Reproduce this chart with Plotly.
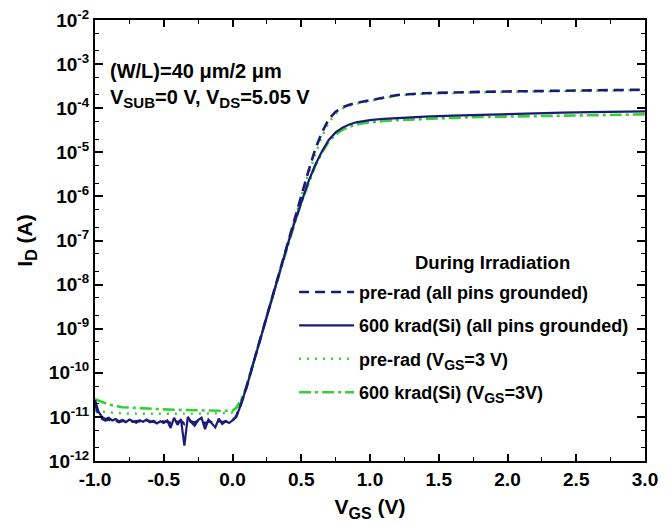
import numpy as np
import plotly.graph_objects as go

# Gate voltage sample points (V)
vgs_off = [-1.000, -0.975, -0.950, -0.925, -0.900, -0.875, -0.850, -0.825, -0.800,
           -0.775, -0.750, -0.725, -0.700, -0.675, -0.650, -0.625, -0.600, -0.575,
           -0.550, -0.525, -0.500, -0.475, -0.450, -0.425, -0.400, -0.375, -0.350,
           -0.325, -0.300, -0.275, -0.250, -0.225, -0.200, -0.175, -0.150, -0.125,
           -0.100, -0.075, -0.050, -0.025]
vgs_on = [0.000, 0.025, 0.050, 0.075, 0.100, 0.150, 0.200, 0.250, 0.300, 0.350,
          0.400, 0.450, 0.500, 0.550, 0.600, 0.650, 0.700, 0.750, 0.800, 0.850,
          0.900, 0.950, 1.000, 1.100, 1.200, 1.400, 1.600, 1.800, 2.000, 2.200,
          2.400, 2.600, 2.800, 3.000]
vgs_off_coarse = [-1.0, -0.9, -0.8, -0.7, -0.6, -0.5, -0.4, -0.3, -0.2, -0.1]

# log10 of drain current (A)
# 600 krad(Si), all pins grounded
log_id_600_gnd_off = [-10.62, -10.88, -11.00, -11.05, -11.02, -11.08, -11.05, -11.10, -11.07,
                      -11.12, -11.06, -11.09, -11.13, -11.08, -11.11, -11.06, -11.12, -11.09,
                      -11.15, -11.10, -11.14, -11.08, -11.25, -11.02, -11.18, -11.05, -11.65,
                      -11.00, -11.12, -11.20, -11.07, -11.02, -11.28, -11.06, -11.15, -11.24,
                      -11.04, -11.16, -11.10, -11.14]
log_id_600_gnd_on = [-11.08, -11.00, -10.82, -10.60, -10.35, -9.80, -9.25, -8.70, -8.15, -7.62,
                     -7.10, -6.60, -6.12, -5.68, -5.30, -4.98, -4.72, -4.55, -4.44, -4.37,
                     -4.32, -4.29, -4.27, -4.24, -4.22, -4.19, -4.17, -4.15, -4.13, -4.12,
                     -4.10, -4.09, -4.08, -4.07]

# pre-rad, all pins grounded
log_id_pre_gnd_off = [-10.70, -10.95, -11.04, -11.08, -11.06, -11.10, -11.08, -11.12, -11.09,
                      -11.10, -11.08, -11.11, -11.10, -11.09, -11.12, -11.08, -11.10, -11.11,
                      -11.12, -11.09, -11.11, -11.10, -11.14, -11.08, -11.12, -11.09, -11.16,
                      -11.08, -11.11, -11.13, -11.09, -11.08, -11.15, -11.10, -11.12, -11.14,
                      -11.09, -11.12, -11.10, -11.11]
log_id_pre_gnd_on = [-11.08, -11.00, -10.82, -10.60, -10.35, -9.80, -9.25, -8.70, -8.15, -7.60,
                     -7.05, -6.50, -5.98, -5.45, -4.95, -4.55, -4.25, -4.08, -3.98, -3.92,
                     -3.88, -3.85, -3.83, -3.76, -3.70, -3.66, -3.64, -3.63, -3.62, -3.61,
                     -3.60, -3.59, -3.585, -3.58]

# pre-rad, VGS = 3 V bias
log_id_pre_vgs_off = [-10.86, -10.90, -10.92, -10.93, -10.93, -10.93, -10.93, -10.93, -10.93,
                      -10.92]
log_id_pre_vgs_on = [-10.90, -10.84, -10.72, -10.55, -10.35, -9.80, -9.25, -8.70, -8.15, -7.61,
                     -7.07, -6.53, -6.01, -5.50, -5.05, -4.65, -4.32, -4.12, -4.01, -3.94,
                     -3.90, -3.87, -3.84, -3.77, -3.71, -3.67, -3.65, -3.64, -3.63, -3.62,
                     -3.61, -3.60, -3.595, -3.59]

# 600 krad(Si), VGS = 3 V bias
log_id_600_vgs_off = [-10.60, -10.72, -10.78, -10.80, -10.82, -10.83, -10.84, -10.85, -10.86,
                      -10.86]
log_id_600_vgs_on = [-10.86, -10.80, -10.68, -10.52, -10.32, -9.80, -9.26, -8.72, -8.18, -7.65,
                     -7.13, -6.63, -6.15, -5.71, -5.32, -5.01, -4.76, -4.60, -4.49, -4.42,
                     -4.37, -4.34, -4.32, -4.29, -4.27, -4.24, -4.22, -4.20, -4.19, -4.18,
                     -4.17, -4.16, -4.15, -4.14]

NAVY = "#1b1b77"
GREEN = "#35d035"
FONT = "Liberation Sans, Arial, sans-serif"


def sub(txt, size):
    """Subscript a little larger than the default 70 % scale."""
    return f"<sub><span style='font-size:{size}px'>{txt}</span></sub>"


def curve(v_off, v_on, log_off, log_on):
    x = list(v_off) + list(v_on)
    y = 10 ** np.array(list(log_off) + list(log_on))
    return x, y


series = [
    dict(name="pre-rad (all pins grounded)", data=(vgs_off, vgs_on, log_id_pre_gnd_off, log_id_pre_gnd_on),
         color=NAVY, dash="10px,6px", width=2.6, rank=1),
    dict(name="600 krad(Si) (all pins grounded)", data=(vgs_off, vgs_on, log_id_600_gnd_off, log_id_600_gnd_on),
         color=NAVY, dash="solid", width=2.2, rank=2),
    dict(name=f"pre-rad (V{sub('GS', 14)}=3 V)", data=(vgs_off_coarse, vgs_on, log_id_pre_vgs_off, log_id_pre_vgs_on),
         color=GREEN, dash="2px,6px", width=2.4, rank=3),
    dict(name=f"600 krad(Si) (V{sub('GS', 14)}=3V)", data=(vgs_off_coarse, vgs_on, log_id_600_vgs_off, log_id_600_vgs_on),
         color=GREEN, dash="12px,4px,3px,4px", width=2.6, rank=4),
]

fig = go.Figure()
# draw the green curves first so the navy curves sit on top
for s in [series[3], series[2], series[1], series[0]]:
    x, y = curve(*s["data"])
    fig.add_trace(go.Scatter(
        x=x, y=y, mode="lines", name=s["name"],
        line=dict(color=s["color"], dash=s["dash"], width=s["width"]),
        legendrank=s["rank"], legendgroup=s["name"],
    ))

fig.update_layout(
    width=670, height=525,
    margin=dict(l=95, r=25, t=20, b=64),
    plot_bgcolor="white", paper_bgcolor="white",
    font=dict(family=FONT, color="black", size=18, weight="bold"),
    showlegend=True,
    legend=dict(
        x=0.362, y=0.4245, xanchor="left", yanchor="top",
        bgcolor="rgba(0,0,0,0)", font=dict(size=18, family=FONT, weight="bold"),
        itemwidth=55, tracegroupgap=7, traceorder="grouped",
    ),
)

fig.update_xaxes(
    range=[-1.0, 3.0], tickvals=[-1.0, -0.5, 0.0, 0.5, 1.0, 1.5, 2.0, 2.5, 3.0],
    ticktext=["-1.0", "-0.5", "0.0", "0.5", "1.0", "1.5", "2.0", "2.5", "3.0"],
    ticks="inside", ticklen=7, tickwidth=1.5, tickcolor="black",
    minor=dict(dtick=0.25, tick0=0, ticks="inside", ticklen=4, tickwidth=1.2, tickcolor="black"),
    showline=True, linecolor="black", linewidth=2, mirror="ticks",
    showgrid=False, zeroline=False, automargin=False,
    tickfont=dict(size=19, family=FONT, weight="bold"),
    title=dict(text=f"V{sub('GS', 16)} (V)", font=dict(size=21, family=FONT, weight="bold"), standoff=11),
)

exps = list(range(-12, -1))
fig.update_yaxes(
    type="log", range=[-12, -2],
    tickvals=[10.0 ** e for e in exps],
    ticktext=[f"10<sup>{e}</sup>" for e in exps],
    ticks="inside", ticklen=8, tickwidth=1.5, tickcolor="black",
    minor=dict(ticks="inside", ticklen=4, tickwidth=1, tickcolor="black"),
    showline=True, linecolor="black", linewidth=2, mirror="ticks",
    showgrid=False, zeroline=False, automargin=False,
    tickfont=dict(size=19, family=FONT, weight="bold"),
    title=dict(text=f"I{sub('D', 16)} (A)", font=dict(size=21, family=FONT, weight="bold"), standoff=10),
)

fig.add_annotation(
    x=0.024, y=0.884, xref="paper", yref="paper", xanchor="left", yanchor="middle",
    text="(W/L)=40 \u03bcm/2 \u03bcm", showarrow=False,
    font=dict(size=20, family=FONT, weight="bold"),
)
fig.add_annotation(
    x=0.024, y=0.822, xref="paper", yref="paper", xanchor="left", yanchor="middle",
    text=f"V{sub('SUB', 15)}=0 V, V{sub('DS', 15)}=5.05 V", showarrow=False,
    font=dict(size=20, family=FONT, weight="bold"),
)
fig.add_annotation(
    x=0.722, y=0.451, xref="paper", yref="paper", xanchor="center", yanchor="middle",
    text="During Irradiation", showarrow=False,
    font=dict(size=18.5, family=FONT, weight="bold"),
)

fig.write_html("out.html")
